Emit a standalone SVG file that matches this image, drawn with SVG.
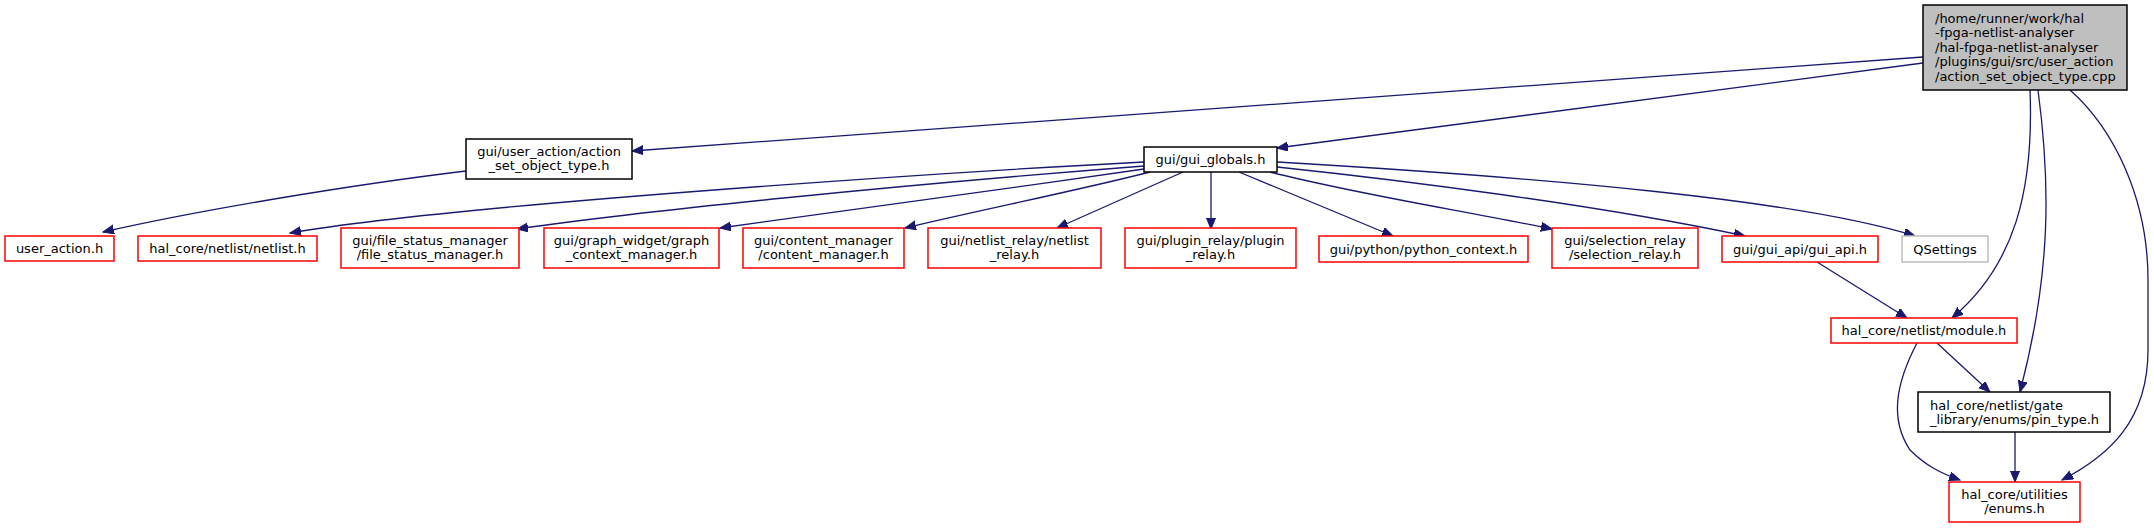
<svg xmlns="http://www.w3.org/2000/svg" width="2154" height="528" viewBox="0 0 2154 528">
<style>
text{font-family:"DejaVu Sans",Verdana,sans-serif;font-size:13px;fill:#000}
.c{text-anchor:middle}
.red{fill:#fff;stroke:#ff0000;stroke-width:1.5}
.blk{fill:#fff;stroke:#000;stroke-width:1.5}
.gry{fill:#fff;stroke:#bfbfbf;stroke-width:1.5}
.main{fill:#bfbfbf;stroke:#000;stroke-width:1.5}
.e{fill:none;stroke:#191970;stroke-width:1.3;marker-end:url(#ah)}
</style>
<defs>
<marker id="ah" markerUnits="userSpaceOnUse" markerWidth="12" markerHeight="10" refX="11" refY="4.5" orient="auto">
<path d="M0,0 L11,4.5 L0,9 z" fill="#191970" stroke="#191970" stroke-width="1"/>
</marker>
</defs>
<rect width="2154" height="528" fill="#fff"/>
<g id="edges">
<path class="e" d="M1923,57 L632,151"/>
<path class="e" d="M1923,63 L1277,148"/>
<path class="e" d="M2030,90 C2034,190 2015,265 1952,318"/>
<path class="e" d="M2038,90 C2050,180 2052,270 2020,392"/>
<path class="e" d="M2070,90 C2115,130 2148,200 2148,280 L2148,350 C2148,420 2110,455 2062,480"/>
<path class="e" d="M466,171 C350,185 200,210 103,232"/>
<path class="e" d="M1144,162 C950,172 450,205 290,233"/>
<path class="e" d="M1144,166 C900,185 650,210 517,229"/>
<path class="e" d="M1144,169 C1000,190 850,210 720,228"/>
<path class="e" d="M1150,172 C1080,190 980,210 905,228"/>
<path class="e" d="M1183,172 L1057,228"/>
<path class="e" d="M1211,172 L1211,229"/>
<path class="e" d="M1239,172 L1393,236"/>
<path class="e" d="M1270,172 C1360,195 1460,210 1552,229"/>
<path class="e" d="M1277,167 C1400,180 1600,205 1745,236"/>
<path class="e" d="M1277,162 C1550,178 1800,200 1915,236"/>
<path class="e" d="M1817,262 L1907,318"/>
<path class="e" d="M1937,343 L1990,392"/>
<path class="e" d="M1917,343 C1895,385 1890,420 1910,450 C1925,465 1940,473 1960,480"/>
<path class="e" d="M2015,432 L2015,482"/>
</g>
<g id="main"><rect class="main" x="1923" y="5" width="204" height="85"/>
<text x="1935" y="22.5">/home/runner/work/hal</text>
<text x="1935" y="37">-fpga-netlist-analyser</text>
<text x="1935" y="51.5">/hal-fpga-netlist-analyser</text>
<text x="1935" y="66">/plugins/gui/src/user_action</text>
<text x="1935" y="80.5">/action_set_object_type.cpp</text></g>
<g id="action_set"><rect class="blk" x="466" y="139" width="166" height="40"/>
<text class="c" x="549" y="155.5">gui/user_action/action</text>
<text class="c" x="549" y="169.5">_set_object_type.h</text></g>
<g id="gui_globals"><rect class="blk" x="1144" y="147" width="133" height="25"/>
<text class="c" x="1210.5" y="164">gui/gui_globals.h</text></g>
<g id="user_action"><rect class="red" x="5" y="236" width="109" height="25"/>
<text class="c" x="59.5" y="252.5">user_action.h</text></g>
<g id="netlist"><rect class="red" x="138" y="236" width="179" height="25"/>
<text class="c" x="227.5" y="252.5">hal_core/netlist/netlist.h</text></g>
<g id="file_status"><rect class="red" x="341" y="228" width="178" height="40"/>
<text class="c" x="430" y="244.5">gui/file_status_manager</text>
<text class="c" x="430" y="259">/file_status_manager.h</text></g>
<g id="graph_context"><rect class="red" x="544" y="228" width="175" height="40"/>
<text class="c" x="631.5" y="244.5">gui/graph_widget/graph</text>
<text class="c" x="631.5" y="259">_context_manager.h</text></g>
<g id="content_manager"><rect class="red" x="743" y="228" width="161" height="40"/>
<text class="c" x="823.5" y="244.5">gui/content_manager</text>
<text class="c" x="823.5" y="259">/content_manager.h</text></g>
<g id="netlist_relay"><rect class="red" x="928" y="228" width="173" height="40"/>
<text class="c" x="1014.5" y="244.5">gui/netlist_relay/netlist</text>
<text class="c" x="1014.5" y="259">_relay.h</text></g>
<g id="plugin_relay"><rect class="red" x="1125" y="228" width="171" height="40"/>
<text class="c" x="1210.5" y="244.5">gui/plugin_relay/plugin</text>
<text class="c" x="1210.5" y="259">_relay.h</text></g>
<g id="python_context"><rect class="red" x="1319" y="236" width="209" height="26"/>
<text class="c" x="1423.5" y="253.5">gui/python/python_context.h</text></g>
<g id="selection_relay"><rect class="red" x="1552" y="228" width="146" height="40"/>
<text class="c" x="1625" y="244.5">gui/selection_relay</text>
<text class="c" x="1625" y="259">/selection_relay.h</text></g>
<g id="gui_api"><rect class="red" x="1722" y="236" width="156" height="26"/>
<text class="c" x="1800" y="253.5">gui/gui_api/gui_api.h</text></g>
<g id="qsettings"><rect class="gry" x="1902" y="236" width="86" height="26"/>
<text class="c" x="1945" y="253.5">QSettings</text></g>
<g id="module"><rect class="red" x="1831" y="318" width="186" height="25"/>
<text class="c" x="1924" y="334.5">hal_core/netlist/module.h</text></g>
<g id="pin_type"><rect class="blk" x="1918" y="392" width="192" height="40"/>
<text x="1930" y="409.5">hal_core/netlist/gate</text>
<text x="1930" y="423.5">_library/enums/pin_type.h</text></g>
<g id="enums"><rect class="red" x="1949" y="482" width="131" height="40"/>
<text class="c" x="2014.5" y="498.5">hal_core/utilities</text>
<text class="c" x="2014.5" y="512.5">/enums.h</text></g>
</svg>
